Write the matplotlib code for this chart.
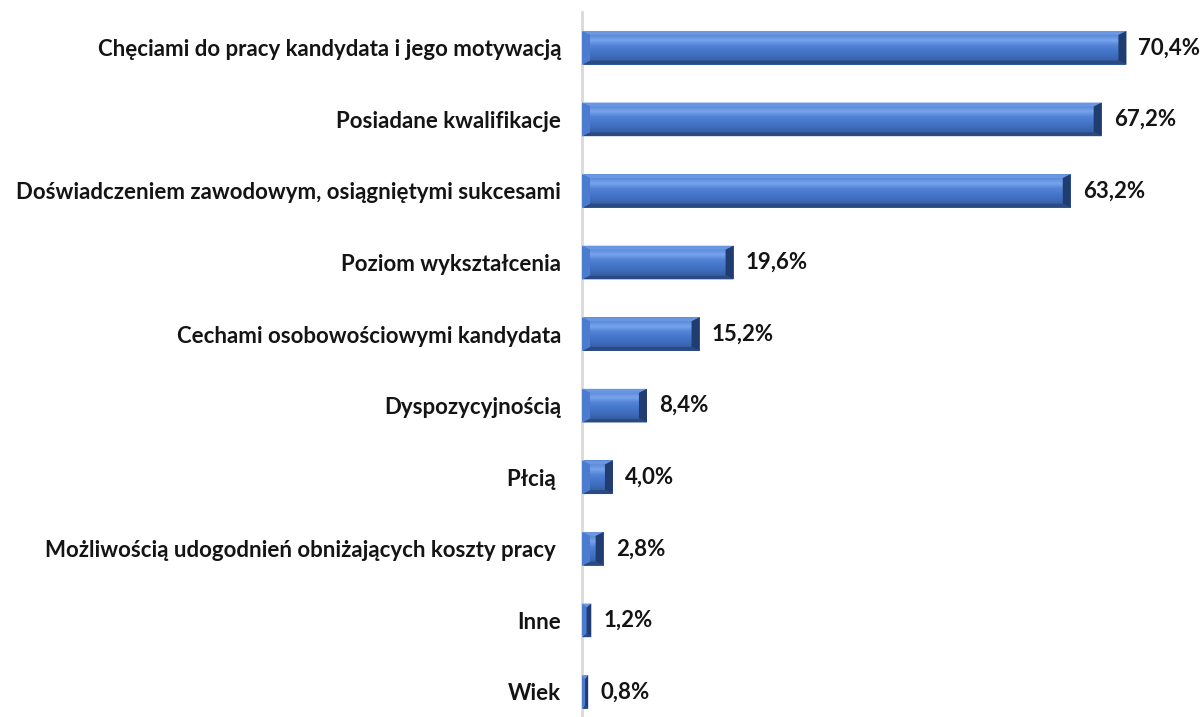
import matplotlib.pyplot as plt
import numpy as np
from matplotlib.patches import Polygon
from matplotlib.colors import LinearSegmentedColormap

# dane
kategorie = [
    "Chęciami do pracy kandydata i jego motywacją",
    "Posiadane kwalifikacje",
    "Doświadczeniem zawodowym, osiągniętymi sukcesami",
    "Poziom wykształcenia",
    "Cechami osobowościowymi kandydata",
    "Dyspozycyjnością",
    "Płcią ",
    "Możliwością udogodnień obniżających koszty pracy ",
    "Inne",
    "Wiek",
]
wartosci = [70.4, 67.2, 63.2, 19.6, 15.2, 8.4, 4.0, 2.8, 1.2, 0.8]
etykiety = ["70,4%", "67,2%", "63,2%", "19,6%", "15,2%", "8,4%", "4,0%", "2,8%", "1,2%", "0,8%"]

W, H = 1203, 717
fig = plt.figure(figsize=(W / 100, H / 100), dpi=100)
ax_left, ax_top_px = 582, 12
ax = fig.add_axes([ax_left / W, 0, (W - ax_left) / W, (H - ax_top_px) / H])

xmax = 80.3
ymin, ymax = -0.5, 9.35
px_x = (W - ax_left) / xmax
px_y = (H - ax_top_px) / (ymax - ymin)

wys = 0.47
pos = np.arange(len(wartosci))
bars = ax.barh(pos, wartosci, height=wys, color="#4677cc", zorder=2)

face = LinearSegmentedColormap.from_list(
    "face", ["#5a8ad8", "#78a4ec", "#5283d6", "#4677cc", "#3f6dbd", "#3760a8"])
grad = np.linspace(0, 1, 64).reshape(-1, 1)

bx, by = 8, 4  # szerokosc fazy w px
for bar, v, et in zip(bars, wartosci, etykiety):
    c = bar.get_y() + bar.get_height() / 2
    h = bar.get_height() / 2
    dx = min(bx / px_x, v / 2)
    dy = by / px_y
    top, bot = c - h, c + h
    ax.imshow(grad, cmap=face, aspect="auto", zorder=3,
              extent=(dx, v - dx, bot - dy, top + dy), interpolation="bilinear")
    ax.add_patch(Polygon([(0, top), (v, top), (v - dx, top + dy), (dx, top + dy)],
                         color="#6b97e2", zorder=4, lw=0))
    ax.add_patch(Polygon([(0, bot), (v, bot), (v - dx, bot - dy), (dx, bot - dy)],
                         color="#2a4a82", zorder=4, lw=0))
    ax.add_patch(Polygon([(0, top), (dx, top + dy), (dx, bot - dy), (0, bot)],
                         color="#4b7cd0", zorder=4, lw=0))
    ax.add_patch(Polygon([(v, top), (v - dx, top + dy), (v - dx, bot - dy), (v, bot)],
                         color="#203c70", zorder=4, lw=0))
    ax.text(v + 12 / px_x, c, et, va="center", ha="left",
            fontsize=16, fontweight="bold", family="Lato", color="#141414")

ax.set_xlim(0, xmax)
ax.set_ylim(ymax, ymin)
ax.set_yticks(pos)
ax.set_yticklabels(kategorie, fontsize=16, fontweight="bold", family="Lato", color="#141414")
ax.tick_params(axis="y", length=0, pad=15)
ax.set_xticks([])
for s in ["top", "right", "bottom"]:
    ax.spines[s].set_visible(False)
ax.spines["left"].set_color("#d9d9d9")
ax.spines["left"].set_linewidth(2)

fig.savefig("out.png", dpi=100)
